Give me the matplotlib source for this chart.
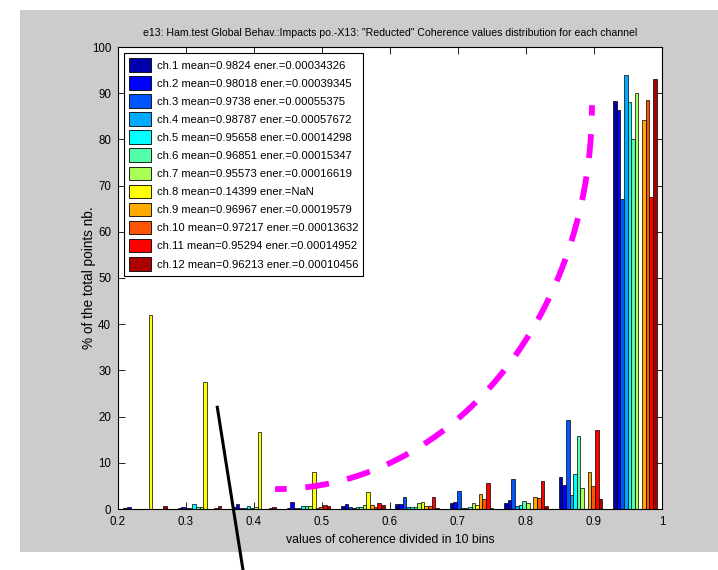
import numpy as np
import matplotlib
matplotlib.use("Agg")
import matplotlib.pyplot as plt
from matplotlib.patches import Rectangle
from matplotlib.lines import Line2D
from matplotlib import font_manager

_avail = {f.name for f in font_manager.fontManager.ttflist}
_fams = [f for f in ['Liberation Sans Narrow', 'Liberation Sans', 'DejaVu Sans'] if f in _avail]
plt.rcParams['font.family'] = _fams or ['DejaVu Sans']
NARROW = 'Liberation Sans Narrow' in _avail
k = 1.0 if not NARROW else 1.2  # size factor if a narrow face is available

# ---- data ----
bin_centers = [0.24, 0.32, 0.40, 0.48, 0.56, 0.64, 0.72, 0.80, 0.88, 0.96]
channels = ['ch.1', 'ch.2', 'ch.3', 'ch.4', 'ch.5', 'ch.6', 'ch.7', 'ch.8', 'ch.9', 'ch.10', 'ch.11', 'ch.12']
means = ['0.9824', '0.98018', '0.9738', '0.98787', '0.95658', '0.96851', '0.95573', '0.14399',
         '0.96967', '0.97217', '0.95294', '0.96213']
energies = ['0.00034326', '0.00039345', '0.00055375', '0.00057672', '0.00014298', '0.00015347',
            '0.00016619', 'NaN', '0.00019579', '0.00013632', '0.00014952', '0.00010456']

ch1 = [0.2, 0.3, 0.4, 0.3, 0.6, 1.1, 1.3, 1.4, 7.0, 88.4]
ch2 = [0.4, 0.4, 1.0, 1.5, 1.0, 1.1, 1.5, 2.0, 5.3, 86.3]
ch3 = [0.1, 0.2, 0.3, 0.3, 0.4, 2.6, 3.9, 6.6, 19.2, 67.2]
ch4 = [0.0, 0.3, 0.2, 0.2, 0.3, 0.4, 0.3, 0.6, 3.0, 94.0]
ch5 = [0.1, 1.0, 0.6, 0.6, 0.4, 0.4, 0.3, 0.9, 7.6, 88.0]
ch6 = [0.0, 0.4, 0.3, 0.6, 0.4, 0.5, 0.5, 1.7, 15.9, 80.1]
ch7 = [0.0, 0.4, 0.4, 0.6, 0.9, 1.3, 1.4, 1.4, 4.5, 90.0]
ch8 = [41.9, 27.4, 16.6, 8.0, 3.7, 1.6, 0.8, 0.0, 0.0, 0.0]
ch9 = [0.0, 0.1, 0.1, 0.2, 0.9, 0.6, 3.2, 2.7, 8.0, 84.3]
ch10 = [0.0, 0.1, 0.1, 0.5, 0.5, 0.7, 2.2, 2.4, 5.0, 88.6]
ch11 = [0.1, 0.2, 0.3, 0.8, 1.3, 2.5, 5.6, 6.0, 17.0, 67.5]
ch12 = [0.6, 0.6, 0.5, 0.7, 0.8, 0.3, 0.3, 0.6, 2.1, 93.0]
counts = [ch1, ch2, ch3, ch4, ch5, ch6, ch7, ch8, ch9, ch10, ch11, ch12]

xtick_vals = [0.2, 0.3, 0.4, 0.5, 0.6, 0.7, 0.8, 0.9, 1.0]
xtick_labels = ['0.2', '0.3', '0.4', '0.5', '0.6', '0.7', '0.8', '0.9', '1']
ytick_vals = [0, 10, 20, 30, 40, 50, 60, 70, 80, 90, 100]

# MATLAB jet(12)
jet12 = [(0, 0, 2/3), (0, 0, 1), (0, 1/3, 1), (0, 2/3, 1), (0, 1, 1), (1/3, 1, 2/3),
         (2/3, 1, 1/3), (1, 1, 0), (1, 2/3, 0), (1, 1/3, 0), (1, 0, 0), (2/3, 0, 0)]

W, H = 718, 570
fig = plt.figure(figsize=(W / 100, H / 100), dpi=100, facecolor='white')
# grey MATLAB figure window area
bg = Rectangle((20 / W, 18 / H), 1 - 20 / W, (560 - 18) / H,
               transform=fig.transFigure, facecolor='#cccccc', edgecolor='none')
bg.set_zorder(-10)
fig.add_artist(bg)

ax = fig.add_axes([118 / W, (H - 509) / H, 544 / W, 462 / H])
ax.set_zorder(1)
ax.set_facecolor('white')

n = len(counts)
bin_w = bin_centers[1] - bin_centers[0]
group_w = 0.8 * bin_w
bw = group_w / n
centers = np.array(bin_centers)
for i, vals in enumerate(counts):
    ax.bar(centers + (i - (n - 1) / 2) * bw, vals, width=bw, color=jet12[i],
           edgecolor='black', linewidth=0.5,
           label=f"{channels[i]} mean={means[i]} ener.={energies[i]}", zorder=2)

ax.set_xlim(0.2, 1.0)
ax.set_ylim(0, 100)
ax.set_xticks(xtick_vals)
ax.set_xticklabels(xtick_labels)
ax.set_yticks(ytick_vals)
ax.tick_params(direction='in', top=True, right=True, length=5, width=0.6,
               labelsize=8.3 * k, pad=5, colors='black')
for s in ax.spines.values():
    s.set_linewidth(0.8)
    s.set_color('black')

ax.set_title('e13: Ham.test Global Behav.:Impacts po.-X13: "Reducted" Coherence values distribution for each channel',
             fontsize=7.6 * k, pad=8)
ax.set_xlabel('values of coherence divided in 10 bins', fontsize=8.8 * k)
ax.set_ylabel('% of the total points nb.', fontsize=9.8 * k)
ax.xaxis.set_label_coords(0.5, -0.055)
ax.yaxis.set_label_coords(-0.04, 0.5)

lfs = 8.15 * k
lpx = lfs * 100 / 72
leg = ax.legend(loc='upper left', bbox_to_anchor=(0.011, 0.987), fontsize=lfs,
                frameon=True, fancybox=False, edgecolor='black', framealpha=1,
                handlelength=22 / lpx, handleheight=16.5 / lpx, handletextpad=6 / lpx,
                labelspacing=4.6 / lpx, borderpad=5 / lpx, borderaxespad=0)
leg.get_frame().set_linewidth(0.8)
for p in leg.get_patches():
    p.set_edgecolor('black')
    p.set_linewidth(0.6)

# magenta dashed annotation arc (quarter ellipse)
t = np.linspace(0, np.pi / 2, 300)
x0, y0, rx, ry = 0.431, 87.4, 0.466, 83.1
ax.plot(x0 + rx * np.sin(t), y0 - ry * np.cos(t), color='#ff00ff', lw=4.2,
        linestyle=(2.1, (4.1, 3.2)), zorder=5, clip_on=False)

# black pointer line
fig.add_artist(Line2D([217.3 / W, 243 / W], [1 - 407.3 / H, 1 - 570 / H],
                      transform=fig.transFigure, color='black', lw=2.2, zorder=10))

fig.savefig('out.png', dpi=100, facecolor=fig.get_facecolor())
